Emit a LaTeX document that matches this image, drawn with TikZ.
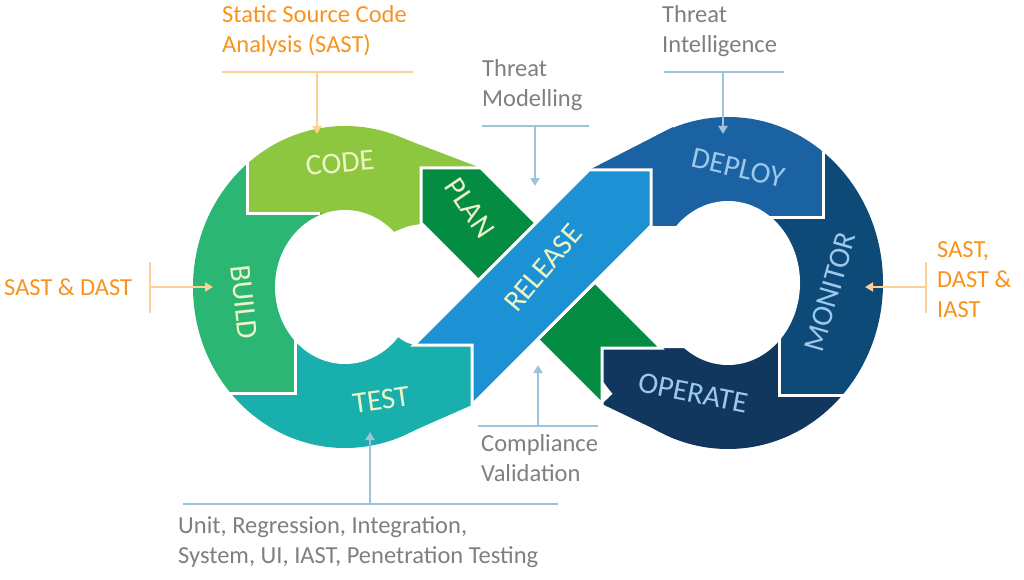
\documentclass[tikz,border=0pt]{standalone}
\usepackage{fontspec}
\setmainfont{Carlito}
\usetikzlibrary{arrows.meta}
\definecolor{cCode}{HTML}{8DC63F}
\definecolor{cBuild}{HTML}{2BB673}
\definecolor{cTest}{HTML}{19AFAC}
\definecolor{cPlan}{HTML}{038C42}
\definecolor{cRel}{HTML}{1C91D3}
\definecolor{cDep}{HTML}{1A62A2}
\definecolor{cMon}{HTML}{0D4A78}
\definecolor{cOpe}{HTML}{12375F}
\definecolor{tLeft}{HTML}{EEF4C6}
\definecolor{tRight}{HTML}{9CC8EC}
\definecolor{orTxt}{HTML}{F7941D}
\definecolor{orLn}{HTML}{FDD096}
\definecolor{gyTxt}{HTML}{7F7F7F}
\definecolor{blLn}{HTML}{9DC3DB}
\newcommand\leftwedges{%
  \fill[cBuild] (-100,-100) -- (247,-100) -- (247,213) -- (345,213) -- (345,287) -- (295,287) -- (295,393) -- (-100,393) -- cycle;
  \fill[cCode] (247,-100) -- (600,-100) -- (600,168) -- (421,168) -- (421,260) -- (345,287) -- (345,213) -- (247,213) -- cycle;
  \fill[cTest] (-100,393) -- (295,393) -- (295,287) -- (440,300) -- (440,345) -- (472,345) -- (472,700) -- (-100,700) -- cycle;}
\newcommand\rightwedges{%
  \fill[cDep] (540,-100) -- (823,-100) -- (823,217) -- (728,217) -- (728,283) -- (651,283) -- (651,170) -- (540,170) -- cycle;
  \fill[cMon] (823,-100) -- (1100,-100) -- (1100,395) -- (779,395) -- (779,283) -- (728,283) -- (728,217) -- (823,217) -- cycle;
  \fill[cOpe] (1100,395) -- (1100,700) -- (602,700) -- (602,348) -- (661,348) -- (728,300) -- (728,283) -- (779,283) -- (779,395) -- cycle;}
\begin{document}
\begin{tikzpicture}[x=1pt,y=-1pt,
  lbl/.style={font=\fontsize{30}{30}\selectfont},
  ann/.style={font=\fontsize{24.5}{30}\selectfont, align=left, anchor=north west, inner sep=0pt},
  sep/.style={white, line width=3pt},
  band/.style={draw=white, line width=3pt, line join=miter},
  orarr/.style={orLn, line width=2.6pt, -{Triangle[length=8pt,width=9pt]}},
  blarr/.style={blLn, line width=2.6pt, -{Triangle[length=8pt,width=9pt]}},
  orline/.style={orLn, line width=1.6pt},
  blline/.style={blLn, line width=1.6pt}]
\useasboundingbox (0,0) rectangle (1024,580);
\coordinate (C1) at (345,287);
\coordinate (C2) at (728,283);
% left loop
\begin{scope}\clip (C1) ellipse [x radius=152, y radius=161]; \leftwedges\end{scope}
\begin{scope}\clip (C1) -- (397,136) -- (481,168) -- (536,223) -- cycle; \leftwedges\end{scope}
\begin{scope}\clip (C1) -- (397,438) -- (472,405) -- (472,345) -- cycle; \leftwedges\end{scope}
% right loop
\begin{scope}\clip (C2) ellipse [x radius=155, y radius=166]; \rightwedges\end{scope}
\begin{scope}\clip (C2) -- (673,127) -- (589,170) -- (651,226) -- cycle; \rightwedges\end{scope}
\begin{scope}\clip (C2) -- (675,439) -- (602,404) -- (661,348) -- cycle; \rightwedges\end{scope}
% separators
\draw[sep] (247,150) -- (247,213) -- (320,213);
\draw[sep] (295,330) -- (295,393) -- (180,393);
\draw[sep] (823,140) -- (823,217) -- (760,217);
\draw[sep] (779,330) -- (779,395) -- (900,395);
% holes
\fill[white] (C1) ellipse [x radius=70, y radius=77];
\fill[white] (C1) -- (394,232) .. controls (408,226) .. (421,224) -- (478.5,280.5) -- (414,345) .. controls (405,342) .. (398,337) -- cycle;
\fill[white] (C2) ellipse [x radius=72, y radius=82];
\fill[white] (C2) -- (676,226) .. controls (664,226) .. (651,226) -- (595,282) -- (661,348) .. controls (672,348) .. (684,348) -- cycle;
% bands
\filldraw[band, fill=cPlan] (421,168) -- (481,168) -- (536,223) -- (478.5,280.5) -- (421,223) -- cycle;
\filldraw[band, fill=cPlan] (595,282) -- (661,348) -- (602,348) -- (602,404) -- (537.5,339.5) -- cycle;
\filldraw[band, fill=cRel] (414,345) -- (472,345) -- (472,405) -- (651,226) -- (651,170) -- (589,170) -- cycle;
% labels
\node[lbl, text=tLeft, rotate=5] (code) at (340,163) {CODE};
\node[lbl, text=tLeft, rotate=-56] (plan) at (470,208) {PLAN};
\node[lbl, text=tLeft, rotate=-84] (build) at (244,302) {BUILD};
\node[lbl, text=tLeft, rotate=8] (test) at (381,400) {TEST};
\node[lbl, text=tLeft, rotate=50] (rel) at (543,268) {RELEASE};
\node[lbl, text=tRight, rotate=-13] (dep) at (738,168) {DEPLOY};
\node[lbl, text=tRight, rotate=74] (mon) at (830,292) {MONITOR};
\node[lbl, text=tRight, rotate=-11] (ope) at (693,393) {OPERATE};
% annotations
\node[ann, text=orTxt] (sast) at (222,5) {Static Source Code\\Analysis (SAST)};
\draw[orline] (222,72) -- (413,72);
\coordinate (sastA) at (317,72);
\draw[orarr] (sastA) -- (317,134);
\node[ann, text=orTxt, anchor=west] (sd) at (4,287) {SAST \& DAST};
\draw[orline] (150,262) -- (150,313);
\coordinate (sdA) at (151,287);
\draw[orarr] (sdA) -- (213,287);
\node[ann, text=orTxt] (sdi) at (937,241) {SAST,\\DAST \&\\IAST};
\draw[orline] (926,262) -- (926,313);
\coordinate (sdiA) at (925,287);
\draw[orarr] (sdiA) -- (865,287);
\node[ann, text=gyTxt] (tm) at (482,59) {Threat\\Modelling};
\draw[blline] (482,126) -- (589,126);
\coordinate (tmA) at (535,126);
\draw[blarr] (tmA) -- (535,186);
\node[ann, text=gyTxt] (ti) at (662,5) {Threat\\Intelligence};
\draw[blline] (664,72) -- (784,72);
\coordinate (tiA) at (723,72);
\draw[blarr] (tiA) -- (723,134);
\node[ann, text=gyTxt] (cv) at (481,434) {Compliance\\Validation};
\draw[blline] (478,426) -- (598,426);
\coordinate (cvA) at (538,426);
\draw[blarr] (cvA) -- (538,365);
\node[ann, text=gyTxt] (ut) at (178,516) {Unit, Regression, Integration,\\System, UI, IAST, Penetration Testing};
\draw[blline] (183,504) -- (558,504);
\coordinate (utA) at (370,504);
\draw[blarr] (utA) -- (370,432);
\end{tikzpicture}
\end{document}
